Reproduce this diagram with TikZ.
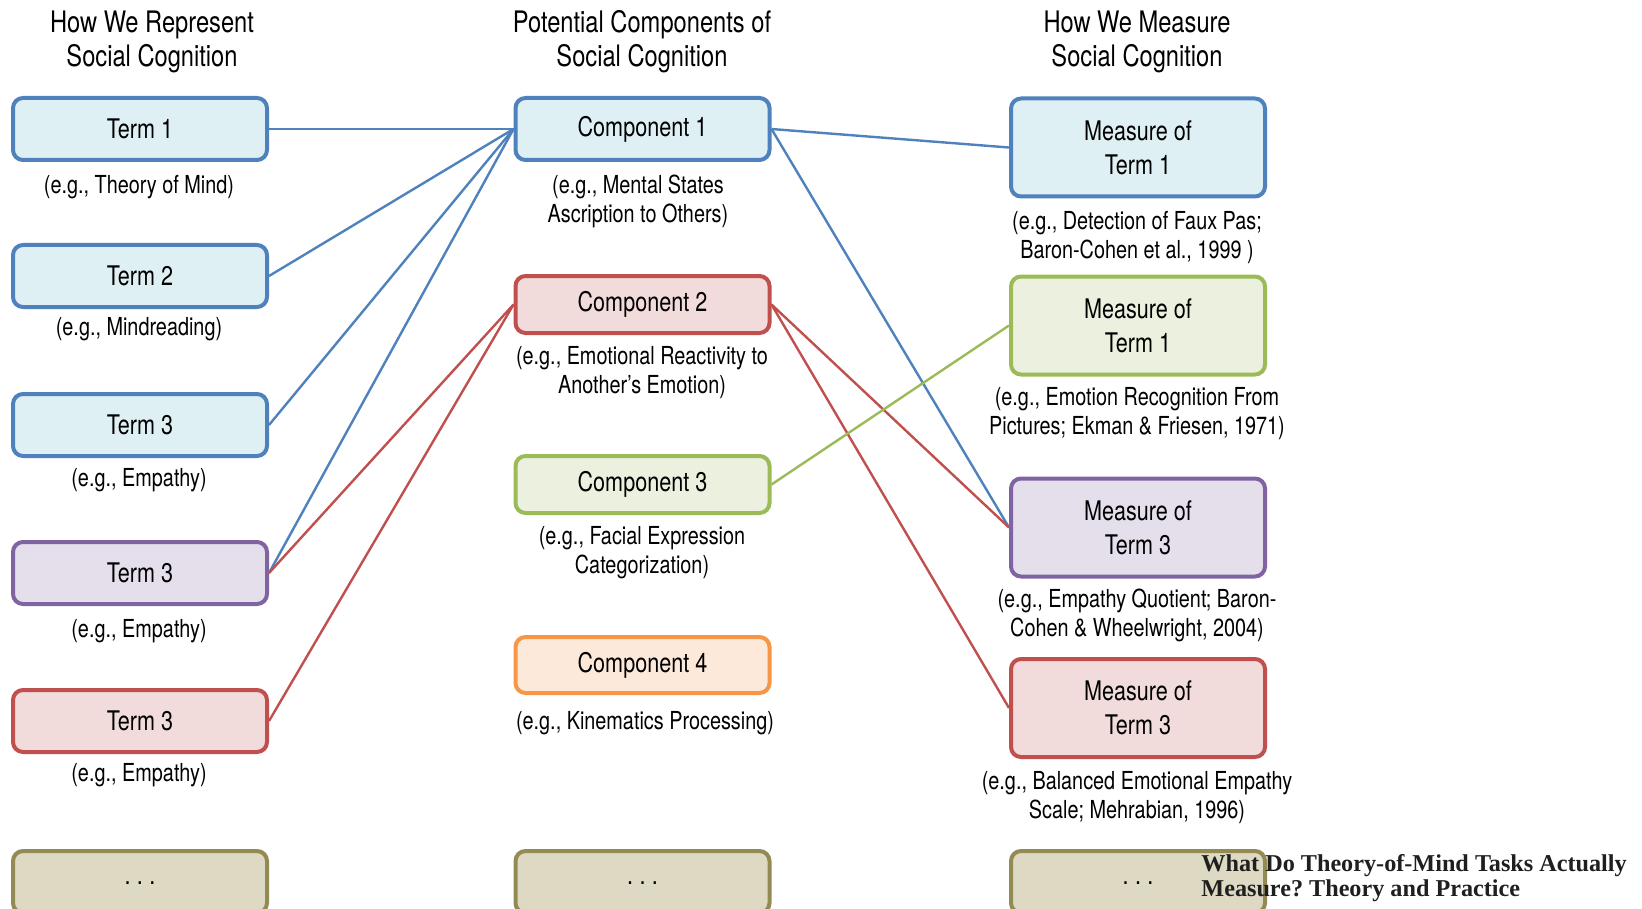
\documentclass[tikz,border=0pt]{standalone}
\usepackage{fontspec}
\setmainfont{TeX Gyre Heros}[FakeStretch=0.8]
\newfontfamily\titlefont{Liberation Serif}
\frenchspacing
\definecolor{bluedraw}{HTML}{4F81BD}\definecolor{bluefill}{HTML}{DFF0F5}
\definecolor{reddraw}{HTML}{C0504D}\definecolor{redfill}{HTML}{F2DCDB}
\definecolor{greendraw}{HTML}{9BBB59}\definecolor{greenfill}{HTML}{EBF1DE}
\definecolor{purpledraw}{HTML}{8064A2}\definecolor{purplefill}{HTML}{E5DFEC}
\definecolor{orangedraw}{HTML}{F79646}\definecolor{orangefill}{HTML}{FDE9D9}
\definecolor{olivedraw}{HTML}{948A54}\definecolor{olivefill}{HTML}{DDD9C3}
\newcommand{\moredots}{\raisebox{-2pt}{.\hspace{3.2pt}.\hspace{3.2pt}.}}
\tikzset{
  box/.style={draw, line width=2pt, rounded corners=5pt, minimum width=127pt,
    inner sep=0pt, align=center, font=\fontsize{13.5}{17}\selectfont},
  short/.style={box, minimum height=31pt},
  tall/.style={box, minimum height=49pt},
  bluebox/.style={draw=bluedraw, fill=bluefill},
  redbox/.style={draw=reddraw, fill=redfill},
  greenbox/.style={draw=greendraw, fill=greenfill},
  purplebox/.style={draw=purpledraw, fill=purplefill},
  orangebox/.style={draw=orangedraw, fill=orangefill},
  olivebox/.style={draw=olivedraw, fill=olivefill},
  note/.style={align=center, inner sep=0pt, font=\fontsize{12.4}{14.5}\selectfont},
  head/.style={align=center, inner sep=0pt, font=\fontsize{14.8}{17}\selectfont},
  link/.style={line width=1.2pt},
}
\begin{document}
\begin{tikzpicture}[x=0.5pt, y=-0.5pt]
\useasboundingbox (0,0) rectangle (1642,909);
\clip (0,0) rectangle (1642,909);

% column headings
\node[head] (h1) at (152,42) {How We Represent\\Social Cognition};
\node[head] (h2) at (642,42) {Potential Components of\\Social Cognition};
\node[head] (h3) at (1137,42) {How We Measure\\Social Cognition};

% terms
\node[short, bluebox]   (t1) at (140,129) {Term 1};
\node[short, bluebox]   (t2) at (140,276) {Term 2};
\node[short, bluebox]   (t3) at (140,425) {Term 3};
\node[short, purplebox] (t4) at (140,573) {Term 3};
\node[short, redbox]    (t5) at (140,721) {Term 3};
\node[short, olivebox]  (t6) at (140,882) {\moredots};

\node[note] (n1) at (139,187) {(e.g., Theory of Mind)};
\node[note] (n2) at (139,329) {(e.g., Mindreading)};
\node[note] (n3) at (139,480) {(e.g., Empathy)};
\node[note] (n4) at (139,631) {(e.g., Empathy)};
\node[note] (n5) at (139,775) {(e.g., Empathy)};

% components
\node[short, bluebox]   (c1) at (642.5,129) {Component 1};
\node[box, minimum height=28.5pt, redbox]    (c2) at (642.5,304.5) {Component 2};
\node[box, minimum height=28.5pt, greenbox]  (c3) at (642.5,484.5) {Component 3};
\node[box, minimum height=28pt, orangebox] (c4) at (642.5,665) {Component 4};
\node[short, olivebox]  (c5) at (642.5,882) {\moredots};

\node[note] (m1) at (638,201.5) {(e.g., Mental States\\Ascription to Others)};
\node[note] (m2) at (642,373) {(e.g., Emotional Reactivity to\\Another’s Emotion)};
\node[note] (m3) at (642,553) {(e.g., Facial Expression\\Categorization)};
\node[note] (m4) at (645,723) {(e.g., Kinematics Processing)};

% measures
\node[tall, bluebox]   (r1) at (1138,147.5) {Measure of\\Term 1};
\node[tall, greenbox]  (r2) at (1138,325.5) {Measure of\\Term 1};
\node[tall, purplebox] (r3) at (1138,527.5) {Measure of\\Term 3};
\node[tall, redbox]    (r4) at (1138,708)   {Measure of\\Term 3};
\node[short, olivebox] (r5) at (1138,882)   {\moredots};

\node[note] (s1) at (1137,238)   {(e.g., Detection of Faux Pas;\\Baron-Cohen et al., 1999 )};
\node[note] (s2) at (1137,413.5) {(e.g., Emotion Recognition From\\Pictures; Ekman \& Friesen, 1971)};
\node[note] (s3) at (1137,615.5) {(e.g., Empathy Quotient; Baron-\\Cohen \& Wheelwright, 2004)};
\node[note] (s4) at (1137,798)   {(e.g., Balanced Emotional Empathy\\Scale; Mehrabian, 1996)};

% links
\draw[link, bluedraw] (t1.east) -- (c1.west);
\draw[link, bluedraw] (t2.east) -- (c1.west);
\draw[link, bluedraw] (t3.east) -- (c1.west);
\draw[link, bluedraw] (t4.east) -- (c1.west);
\draw[link, reddraw]  (t4.east) -- (c2.west);
\draw[link, reddraw]  (t5.east) -- (c2.west);
\draw[link, bluedraw] (c1.east) -- (r1.west);
\draw[link, bluedraw] (c1.east) -- (r3.west);
\draw[link, reddraw]  (c2.east) -- (r3.west);
\draw[link, reddraw]  (c2.east) -- (r4.west);
\draw[link, greendraw] (c3.east) -- (r2.west);

% running title
\node[anchor=west, align=left, inner sep=0pt, text=black!88,
  font=\titlefont\bfseries\fontsize{12.1}{12.5}\selectfont] (title) at (1201,878)
  {What Do Theory-of-Mind Tasks Actually\\Measure? Theory and Practice};
\end{tikzpicture}
\end{document}
